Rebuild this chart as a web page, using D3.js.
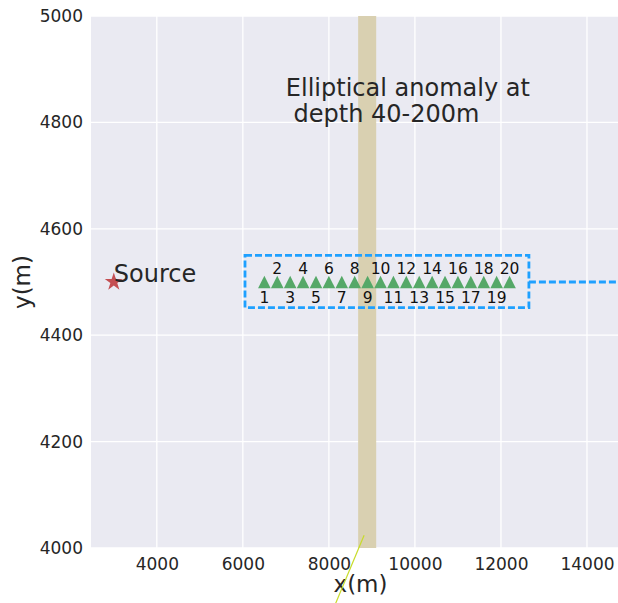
<!DOCTYPE html>
<html>
<head>
<meta charset="utf-8">
<script src="https://cdn.jsdelivr.net/npm/d3@7"></script>
<style>
  html, body { margin: 0; padding: 0; background: #ffffff; }
  svg { display: block; font-family: "DejaVu Sans", sans-serif; }
</style>
</head>
<body>
<div id="chart"></div>
<script>
// Survey layout: source, receiver line and anomaly band (metres)
const xTicks = [4000, 6000, 8000, 10000, 12000, 14000];
const yTicks = [4000, 4200, 4400, 4600, 4800, 5000];
const xDomain = [2470, 15000];
const yDomain = [4000, 5000];

const source = { x: 3000, y: 4500, label: "Source" };

const receiverX = [6500, 6800, 7100, 7400, 7700, 8000, 8300, 8600, 8900, 9200,
                   9500, 9800, 10100, 10400, 10700, 11000, 11300, 11600, 11900, 12200];
const receiverY = 4500;
const receiverIds = d3.range(1, 21);
const labelYEven = 4515;
const labelYOdd = 4460;

const anomalyBand = [8680, 9100];
const anomalyText = ["Elliptical anomaly at", " depth 40-200m"];
const anomalyTextPos = { x: 7000, y: 4850 };

const receiverBox = { x0: 6050, x1: 12650, y0: 4452, y1: 4550 };
const boxLead = { x0: 12650, x1: 15000, y: 4500 };

const pointerLine = [{ x: 8819, y: 4024 }, { x: 8075, y: 3880 }];

const W = 618, H = 603;
const plot = { left: 91, right: 630, top: 16, bottom: 548 };

const svg = d3.select("#chart").append("svg")
  .attr("width", W).attr("height", H);

const x = d3.scaleLinear().domain(xDomain).range([plot.left, plot.right]);
const y = d3.scaleLinear().domain(yDomain).range([plot.bottom, plot.top]);

// Axes background
svg.append("rect")
  .attr("x", plot.left).attr("y", plot.top)
  .attr("width", plot.right - plot.left).attr("height", plot.bottom - plot.top)
  .attr("fill", "#EAEAF2");

// Grid
const grid = svg.append("g").attr("stroke", "#ffffff").attr("stroke-width", 1.3);
grid.selectAll("line.v").data(xTicks).join("line")
  .attr("x1", d => x(d)).attr("x2", d => x(d))
  .attr("y1", plot.top).attr("y2", plot.bottom);
grid.selectAll("line.h").data(yTicks).join("line")
  .attr("x1", plot.left).attr("x2", plot.right)
  .attr("y1", d => y(d)).attr("y2", d => y(d));

// Anomaly band
svg.append("rect")
  .attr("x", x(anomalyBand[0])).attr("y", plot.top)
  .attr("width", x(anomalyBand[1]) - x(anomalyBand[0]))
  .attr("height", plot.bottom - plot.top)
  .attr("fill", "#d9d0b1");

// Tick labels via d3 axes
const xAxis = d3.axisBottom(x).tickValues(xTicks).tickSize(0).tickPadding(10).tickFormat(d3.format("d"));
const yAxis = d3.axisLeft(y).tickValues(yTicks).tickSize(0).tickPadding(8).tickFormat(d3.format("d"));

const gx = svg.append("g").attr("transform", `translate(0,${plot.bottom})`).call(xAxis);
const gy = svg.append("g").attr("transform", `translate(${plot.left},0)`).call(yAxis);
[gx, gy].forEach(g => {
  g.select(".domain").remove();
  g.selectAll("text").attr("font-size", 17).attr("fill", "#262626")
    .attr("font-family", "DejaVu Sans, sans-serif");
});

// Axis titles
svg.append("text")
  .attr("x", (plot.left + plot.right) / 2).attr("y", 592)
  .attr("text-anchor", "middle").attr("font-size", 23).attr("fill", "#262626")
  .text("x(m)");
svg.append("text")
  .attr("transform", `translate(29.5,${(plot.top + plot.bottom) / 2}) rotate(-90)`)
  .attr("text-anchor", "middle").attr("font-size", 23).attr("fill", "#262626")
  .text("y(m)");

// Dashed box around receivers and lead line to the right
const blue = "#1ea0ff";
svg.append("rect")
  .attr("x", x(receiverBox.x0)).attr("y", y(receiverBox.y1))
  .attr("width", x(receiverBox.x1) - x(receiverBox.x0))
  .attr("height", y(receiverBox.y0) - y(receiverBox.y1))
  .attr("fill", "none").attr("stroke", blue).attr("stroke-width", 2.8)
  .attr("stroke-dasharray", "7,3");
svg.append("line")
  .attr("x1", x(boxLead.x0)).attr("x2", x(boxLead.x1))
  .attr("y1", y(boxLead.y)).attr("y2", y(boxLead.y))
  .attr("stroke", blue).attr("stroke-width", 2.8).attr("stroke-dasharray", "7,3");

// Receivers
const tri = 12.6;
const triPath = `M0,${-tri / 2}L${tri / 2},${tri / 2}L${-tri / 2},${tri / 2}Z`;
svg.append("g").selectAll("path").data(receiverX).join("path")
  .attr("d", triPath)
  .attr("transform", d => `translate(${x(d)},${y(receiverY)})`)
  .attr("fill", "#55a868");

svg.append("g").selectAll("text").data(receiverIds).join("text")
  .attr("x", (d, i) => x(receiverX[i]))
  .attr("y", d => y(d % 2 === 0 ? labelYEven : labelYOdd))
  .attr("text-anchor", "middle").attr("font-size", 15.5).attr("fill", "#111111")
  .text(d => d);

// Source
svg.append("path")
  .attr("d", d3.symbol(d3.symbolStar, 101)())
  .attr("transform", `translate(${x(source.x)},${y(source.y)})`)
  .attr("fill", "#c44e52");
svg.append("text")
  .attr("x", x(source.x)).attr("y", y(source.y))
  .attr("font-size", 24).attr("fill", "#262626")
  .text(source.label);

// Anomaly annotation
const ann = svg.append("text")
  .attr("x", x(anomalyTextPos.x)).attr("y", y(anomalyTextPos.y))
  .attr("font-size", 24).attr("fill", "#262626")
  .style("white-space", "pre");
anomalyText.forEach((t, i) => {
  ann.append("tspan")
    .attr("x", x(anomalyTextPos.x))
    .attr("dy", i === 0 ? 0 : 26.5)
    .text(t);
});

// Pointer line
svg.append("line")
  .attr("x1", x(pointerLine[0].x)).attr("y1", y(pointerLine[0].y))
  .attr("x2", x(pointerLine[1].x)).attr("y2", y(pointerLine[1].y))
  .attr("stroke", "#c8dc2a").attr("stroke-width", 1.2);
</script>
</body>
</html>
